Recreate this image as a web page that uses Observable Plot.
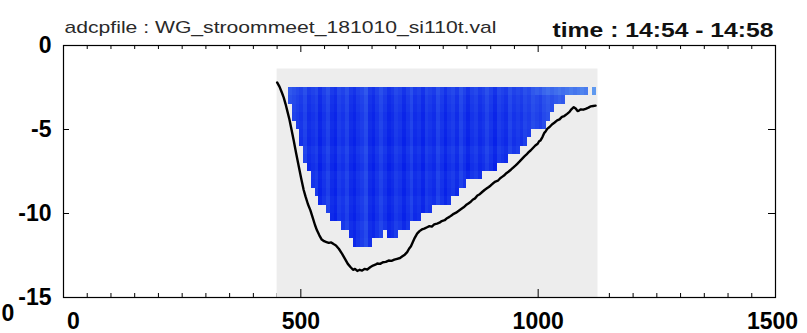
<!DOCTYPE html>
<html><head><meta charset="utf-8">
<script src="https://cdn.jsdelivr.net/npm/d3@7"></script>
<script src="https://cdn.jsdelivr.net/npm/@observablehq/plot@0.6"></script>
<style>html,body{margin:0;padding:0;background:#fff;overflow:hidden} svg{display:block}</style>
</head><body><div id="chart"></div>
<script>
// ---- text ----
const fileTitle = "adcpfile : WG_stroommeet_181010_si110t.val";
const timeTitle = "time : 14:54 - 14:58";
const strayLabel = "0";

// ---- ticks ----
const xTicks = [0, 500, 1000, 1500];
const xMinorTicks = [50,100,150,200,250,300,350,400,450,550,600,650,700,750,800,850,900,950,1050,1100,1150,1200,1250,1300,1350,1400,1450];
const yTicks = [0, -5, -10, -15];

// ---- measured section (distance m, depth m) ----
const sectionDist = [450, 1126];
const sectionDepth = [-1.4, -15];

// ---- ADCP ensembles ----
const binTop = -2.5;
const binSize = 0.5;
const ensembleWidth = 8;
const ensembleX = [474,482,490,498,506,514,522,530,538,546,554,562,570,578,586,594,602,610,618,626,634,642,650,658,666,674,682,690,698,706,714,722,730,738,746,754,762,770,778,786,794,802,810,818,826,834,842,850,858,866,874,882,890,898,906,914,922,930,938,946,954,962,970,978,986,994,1002,1010,1018,1026,1034,1042,1050,1058,1066,1074,1082,1090,1098,1106,1114];
const ensembleBottom = [-3.5,-4.5,-5.0,-6.0,-7.0,-7.5,-8.5,-9.0,-9.5,-9.5,
  -10.0,-10.5,-10.5,-10.5,-11.0,-11.0,-11.5,-12.0,-12.0,-12.0,
  -12.0,-12.0,-11.5,-11.5,-11.5,-11.0,-11.5,-11.5,-11.5,-11.0,
  -11.0,-11.0,-10.5,-10.5,-10.5,-10.0,-10.0,-10.0,-9.5,-9.5,
  -9.5,-9.5,-9.5,-9.0,-9.0,-8.5,-8.5,-8.0,-8.0,-8.0,
  -8.0,-7.5,-7.5,-7.5,-7.5,-7.0,-7.0,-7.0,-6.5,-6.5,
  -6.5,-6.0,-6.0,-5.5,-5.0,-5.0,-5.0,-5.0,-4.5,-4.0,
  -3.5,-3.5,-3.5,-3.0,-3.0,-3.0,-3.0,-3.0,-3.0,-2.5,
  -3.0];
const ensembleShade = [0.35,0.3,0.25,0.2,0.3,0.15,0.2,0.25,0.1,0.2,
  0.3,0.15,0.1,0.25,0.2,0.3,0.15,0.1,0.2,0.25,
  0.35,0.15,0.1,0.2,0.3,0.2,0.1,0.15,0.25,0.2,
  0.1,0.2,0.3,0.15,0.2,0.1,0.25,0.2,0.15,0.3,
  0.2,0.1,0.2,0.25,0.15,0.3,0.2,0.1,0.2,0.25,
  0.15,0.2,0.3,0.2,0.1,0.25,0.2,0.15,0.3,0.2,
  0.25,0.2,0.3,0.25,0.35,0.3,0.25,0.35,0.4,0.35,
  0.4,0.45,0.4,0.45,0.5,0.45,0.5,0.55,0.5,0,
  0.85];
const binShade = [0.1,0.05,0.03,0,0.02,0,-0.02,0.03,0,-0.03,0.02,0,-0.02,0.02,0,-0.02,0.03,0,0.02];
const surfaceFirstEnsemble = 64;
const surfaceShade = [0.45,0.5,0.45,0.55,0.6,0.55,0.6,0.65,0.6,0.65,0.7,0.65,0.7,0.75,0.7,0,0.9];

// ---- bed profile ----
const bedDist = [450,455,460,464,468,472,476,480,485,490,496,501,506,510,515,520,525,530,534,539,544,549,554,559,564,569,574,580,587,593,599,605,610,614,619,624,629,634,640,646,652,657,661,667,673,679,685,691,697,703,709,714,719,724,728,732,736,740,745,750,755,760,766,771,776,781,787,792,797,803,808,813,818,822,827,832,837,843,848,853,858,862,867,872,877,882,887,892,896,900,905,910,915,920,924,928,933,938,943,948,952,956,961,966,971,975,980,984,989,994,999,1002,1005,1009,1013,1016,1019,1024,1029,1034,1040,1045,1050,1055,1061,1066,1070,1075,1079,1083,1086,1090,1095,1100,1106,1111,1116,1121];
const bedDepth = [-2.2,-2.45,-2.8,-3.1,-3.5,-3.95,-4.4,-4.95,-5.65,-6.4,-7.25,-7.95,-8.6,-9.0,-9.45,-9.8,-10.25,-10.7,-11.0,-11.3,-11.55,-11.65,-11.7,-11.75,-11.72,-11.82,-11.9,-12.1,-12.4,-12.7,-13.0,-13.2,-13.35,-13.3,-13.42,-13.35,-13.4,-13.3,-13.33,-13.2,-13.1,-13.05,-12.98,-13.0,-12.9,-12.88,-12.8,-12.82,-12.75,-12.7,-12.65,-12.55,-12.45,-12.3,-12.1,-11.95,-11.7,-11.45,-11.2,-11.05,-10.95,-10.9,-10.82,-10.75,-10.78,-10.65,-10.6,-10.55,-10.45,-10.4,-10.28,-10.2,-10.1,-10.02,-9.95,-9.85,-9.75,-9.63,-9.5,-9.4,-9.3,-9.18,-9.1,-8.93,-8.85,-8.72,-8.6,-8.5,-8.42,-8.33,-8.2,-8.1,-8.05,-7.9,-7.82,-7.74,-7.6,-7.5,-7.38,-7.25,-7.15,-7.04,-6.9,-6.75,-6.6,-6.5,-6.35,-6.25,-6.1,-5.95,-5.85,-5.7,-5.65,-5.45,-5.2,-5.1,-4.96,-4.85,-4.7,-4.6,-4.46,-4.4,-4.25,-4.2,-4.07,-3.95,-3.8,-3.67,-3.75,-3.9,-3.87,-3.8,-3.82,-3.77,-3.7,-3.62,-3.6,-3.58];

// ---- build tables ----
const cells = ensembleX.flatMap((x, i) => binShade.map((bs, r) => {
  const y1 = binTop - r * binSize, y2 = y1 - binSize;
  if (y2 < ensembleBottom[i] - 1e-9) return null;
  let shade = ensembleShade[i] + bs;
  if (r === 0 && i >= surfaceFirstEnsemble) shade = surfaceShade[i - surfaceFirstEnsemble];
  return {x1: x, x2: x + ensembleWidth, y1, y2, shade};
}).filter(d => d));
const bed = bedDist.map((x, i) => ({x, y: bedDepth[i]}));
const section = [{x1: sectionDist[0], x2: sectionDist[1], y1: sectionDepth[0], y2: sectionDepth[1]}];

const W = 807, H = 333, mL = 63, mR = 32, mT = 45, mB = 36;
const fw = W - mL - mR, fh = H - mT - mB;
const axisFont = {tickSize: 0, fontSize: 23, fontWeight: "bold", label: null, tickFormat: d => String(d)};

const plot = Plot.plot({
  width: W, height: H,
  marginLeft: mL, marginRight: mR, marginTop: mT, marginBottom: mB,
  x: {domain: [0, 1500]},
  y: {domain: [-15, 0]},
  color: {type: "linear", domain: [0, 1], range: ["#0016e8", "#6aa8f0"], clamp: true},
  style: {fontFamily: "'Liberation Sans', Arial, sans-serif", background: "#fff", color: "#000"},
  marks: [
    Plot.ruleX(xMinorTicks, {insetTop: fh - 4, stroke: "#000"}),
    Plot.rect(section, {x1: "x1", x2: "x2", y1: "y1", y2: "y2", fill: "#ededed"}),
    Plot.rect(cells, {x1: "x1", x2: "x2", y1: "y1", y2: "y2", fill: "shade", shapeRendering: "crispEdges"}),
    Plot.line(bed, {x: "x", y: "y", stroke: "#000", strokeWidth: 2.4, strokeLinejoin: "round"}),
    Plot.ruleX(xMinorTicks, {insetBottom: fh - 4, stroke: "#000"}),
    Plot.ruleX(xTicks, {insetTop: fh - 8, stroke: "#000"}),
    Plot.ruleX(xTicks, {insetBottom: fh - 7, stroke: "#000"}),
    Plot.ruleY(yTicks, {insetRight: fw - 6, stroke: "#000"}),
    Plot.ruleY(yTicks, {insetLeft: fw - 7, stroke: "#000"}),
    Plot.frame({stroke: "#000", strokeWidth: 1.2}),
    Plot.axisX({...axisFont, ticks: xTicks.slice(0, 1), tickPadding: 15, dx: 10}),
    Plot.axisX({...axisFont, ticks: xTicks.slice(1, 3), tickPadding: 15}),
    Plot.axisX({...axisFont, ticks: xTicks.slice(3), tickPadding: 15, dx: -3}),
    Plot.axisY({...axisFont, ticks: yTicks, tickPadding: 12}),
    Plot.text([fileTitle], {text: d => d, frameAnchor: "top-left", textAnchor: "start", dx: 1, dy: -25, fontSize: 17, fill: "#2a2a2a"}),
    Plot.text([timeTitle], {text: d => d, frameAnchor: "top-right", textAnchor: "end", dx: -2, dy: -23, fontSize: 20.5, fontWeight: "bold", fill: "#111"}),
    Plot.text([strayLabel], {text: d => d, frameAnchor: "bottom-left", textAnchor: "start", dx: -62, dy: 23, fontSize: 23, fontWeight: "bold"})
  ]
});
d3.select(plot).selectAll("text").filter(function() { return this.textContent === fileTitle; })
  .attr("textLength", 432).attr("lengthAdjust", "spacingAndGlyphs");
d3.select(plot).selectAll("text").filter(function() { return this.textContent === timeTitle; })
  .attr("textLength", 221).attr("lengthAdjust", "spacingAndGlyphs");
document.getElementById("chart").appendChild(plot);
</script>
</body></html>
